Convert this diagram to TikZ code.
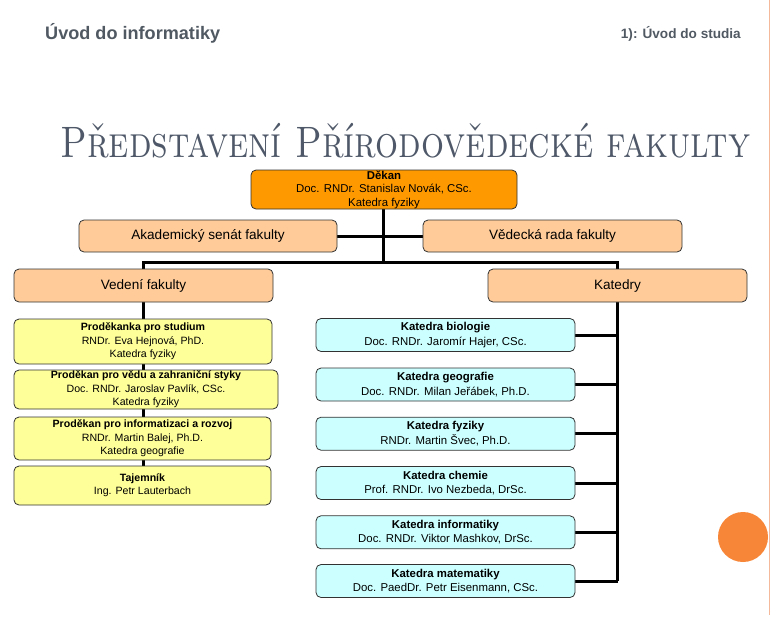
\documentclass[tikz,border=0pt]{standalone}
\usepackage{fontspec}
\newfontfamily\arial{Liberation Sans}
\usetikzlibrary{backgrounds}
\definecolor{hdrgray}{RGB}{80,88,98}
\definecolor{titlegray}{RGB}{78,88,104}
\definecolor{dekanorange}{RGB}{255,153,0}
\definecolor{peach}{RGB}{255,204,153}
\definecolor{paleyellow}{RGB}{255,255,153}
\definecolor{palecyan}{RGB}{204,255,255}
\definecolor{dotorange}{RGB}{247,134,56}
\definecolor{edgesalmon}{RGB}{244,184,154}
\definecolor{boxborder}{RGB}{50,50,50}
\tikzset{
  orgbox/.style={draw=boxborder, line width=0.8pt, rounded corners=5pt, inner sep=0pt, align=center, text=black},
  bigbox/.style={orgbox, fill=peach, font=\arial\fontsize{13.6}{16}\selectfont, minimum width=259pt, minimum height=33pt},
  leftbox/.style={orgbox, fill=paleyellow, font=\arial\fontsize{10.6}{13.4}\selectfont},
  rightbox/.style={orgbox, fill=palecyan, font=\arial\fontsize{11.4}{14.4}\selectfont, minimum width=259pt, minimum height=33pt},
  link/.style={line width=3pt, black},
}
\begin{document}
\begin{tikzpicture}[x=1pt,y=-1pt]
\useasboundingbox (0,0) rectangle (771,619);
% header
\node[anchor=west, inner sep=0pt, text=hdrgray, font=\arial\bfseries\fontsize{18.1}{20}\selectfont] (hdrl) at (45,33) {Úvod do informatiky};
\node[anchor=east, inner sep=0pt, text=hdrgray, font=\arial\bfseries\fontsize{13.6}{16}\selectfont] (hdrr) at (741,34) {1): Úvod do studia};
% title
\node[anchor=base west, inner sep=0pt, text=titlegray, font=\fontsize{44}{48}\selectfont] (title) at (60,157) {\resizebox{690pt}{\height}{\textsc{Představení Přírodovědecké fakulty}}};
% right edge line and dot
\draw[edgesalmon, line width=1.2pt] (769.5,0) -- (769.5,615);
\fill[dotorange] (743,537) circle (25);
% top
\node[orgbox, fill=dekanorange, minimum width=266pt, minimum height=39pt, font=\arial\fontsize{11.4}{13.5}\selectfont] (dekan) at (384,189.5) {\textbf{Děkan}\\Doc. RNDr. Stanislav Novák, CSc.\\Katedra fyziky};
\node[bigbox, minimum width=258pt, minimum height=32pt] (senat) at (208,236) {Akademický senát fakulty};
\node[bigbox, minimum height=32pt] (rada) at (552.5,236) {Vědecká rada fakulty};
\node[bigbox] (vedeni) at (143.5,285.5) {Vedení fakulty};
\node[bigbox] (katedry) at (617.5,285.5) {Katedry};
% left column
\node[leftbox, minimum width=258pt, minimum height=45pt] (l1) at (143,341.5) {\textbf{Proděkanka pro studium}\\RNDr. Eva Hejnová, PhD.\\Katedra fyziky};
\node[leftbox, minimum width=264pt, minimum height=39pt] (l2) at (146,389.5) {\textbf{Proděkan pro vědu a zahraniční styky}\\Doc. RNDr. Jaroslav Pavlík, CSc.\\Katedra fyziky};
\node[leftbox, minimum width=257pt, minimum height=43pt] (l3) at (142.5,438.5) {\textbf{Proděkan pro informatizaci a rozvoj}\\RNDr. Martin Balej, Ph.D.\\Katedra geografie};
\node[leftbox, minimum width=257pt, minimum height=39pt] (l4) at (142.5,485.5) {\textbf{Tajemník}\\Ing. Petr Lauterbach};
% right column
\node[rightbox] (r1) at (445.5,335) {\textbf{Katedra biologie}\\Doc. RNDr. Jaromír Hajer, CSc.};
\node[rightbox] (r2) at (445.5,384.5) {\textbf{Katedra geografie}\\Doc. RNDr. Milan Jeřábek, Ph.D.};
\node[rightbox] (r3) at (445.5,433.7) {\textbf{Katedra fyziky}\\RNDr. Martin Švec, Ph.D.};
\node[rightbox] (r4) at (445.5,483) {\textbf{Katedra chemie}\\Prof. RNDr. Ivo Nezbeda, DrSc.};
\node[rightbox] (r5) at (445.5,532.3) {\textbf{Katedra informatiky}\\Doc. RNDr. Viktor Mashkov, DrSc.};
\node[rightbox] (r6) at (445.5,581) {\textbf{Katedra matematiky}\\Doc. PaedDr. Petr Eisenmann, CSc.};
\coordinate (bus) at (383,262);
\begin{scope}[on background layer]
\draw[link] (dekan.south -| bus) -- (bus);
\draw[link] (senat.east) -- (rada.west);
\draw[link] (vedeni.north) -- (vedeni.north |- bus) -- (katedry.north |- bus) -- (katedry.north);
\draw[link] (vedeni.south) -- (vedeni.south |- l4.north);
\draw[link] (katedry.south) -- (katedry.south |- r6.east);
\foreach \r in {r1,r2,r3,r4,r5,r6} {\draw[link] (\r.east) -- (\r.east -| katedry.south);}
\end{scope}
\end{tikzpicture}
\end{document}
